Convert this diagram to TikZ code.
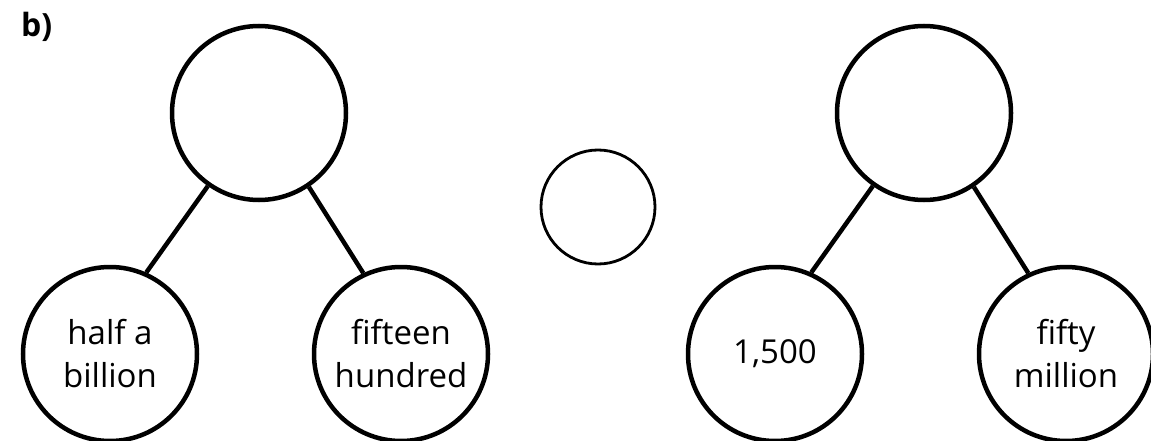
\documentclass[tikz,border=0pt]{standalone}
\usepackage{fontspec}
\setmainfont{Open Sans}
\begin{document}
\begin{tikzpicture}[x=1pt,y=-1pt,
  big/.style={circle,draw,line width=4.5pt,minimum size=174pt,inner sep=0pt,align=center,font=\fontsize{33}{43}\selectfont},
  small/.style={circle,draw,line width=2.8pt,minimum size=114pt,inner sep=0pt},
  link/.style={line width=4.5pt},
  lbl/.style={anchor=base west,inner sep=0pt,font=\fontsize{32}{38}\selectfont\bfseries}]
\useasboundingbox (0,0) rectangle (1151,441);
\node[lbl] (b) at (21,37) {b)};
% left tree
\node[big] (LT) at (259,113) {};
\node[big] (LA) at (110,354) {half a\\billion};
\node[big] (LB) at (401,354) {fifteen\\hundred};
\draw[link] (LT.235) -- (LA.66);
\draw[link] (LT.304) -- (LB.115);
% middle
\node[small] (M) at (598,207) {};
% right tree
\node[big] (RT) at (924,113) {};
\node[big] (RA) at (775,354) {1,500};
\node[big] (RB) at (1066,354) {fifty\\million};
\draw[link] (RT.235) -- (RA.66);
\draw[link] (RT.304) -- (RB.115);
\end{tikzpicture}
\end{document}
